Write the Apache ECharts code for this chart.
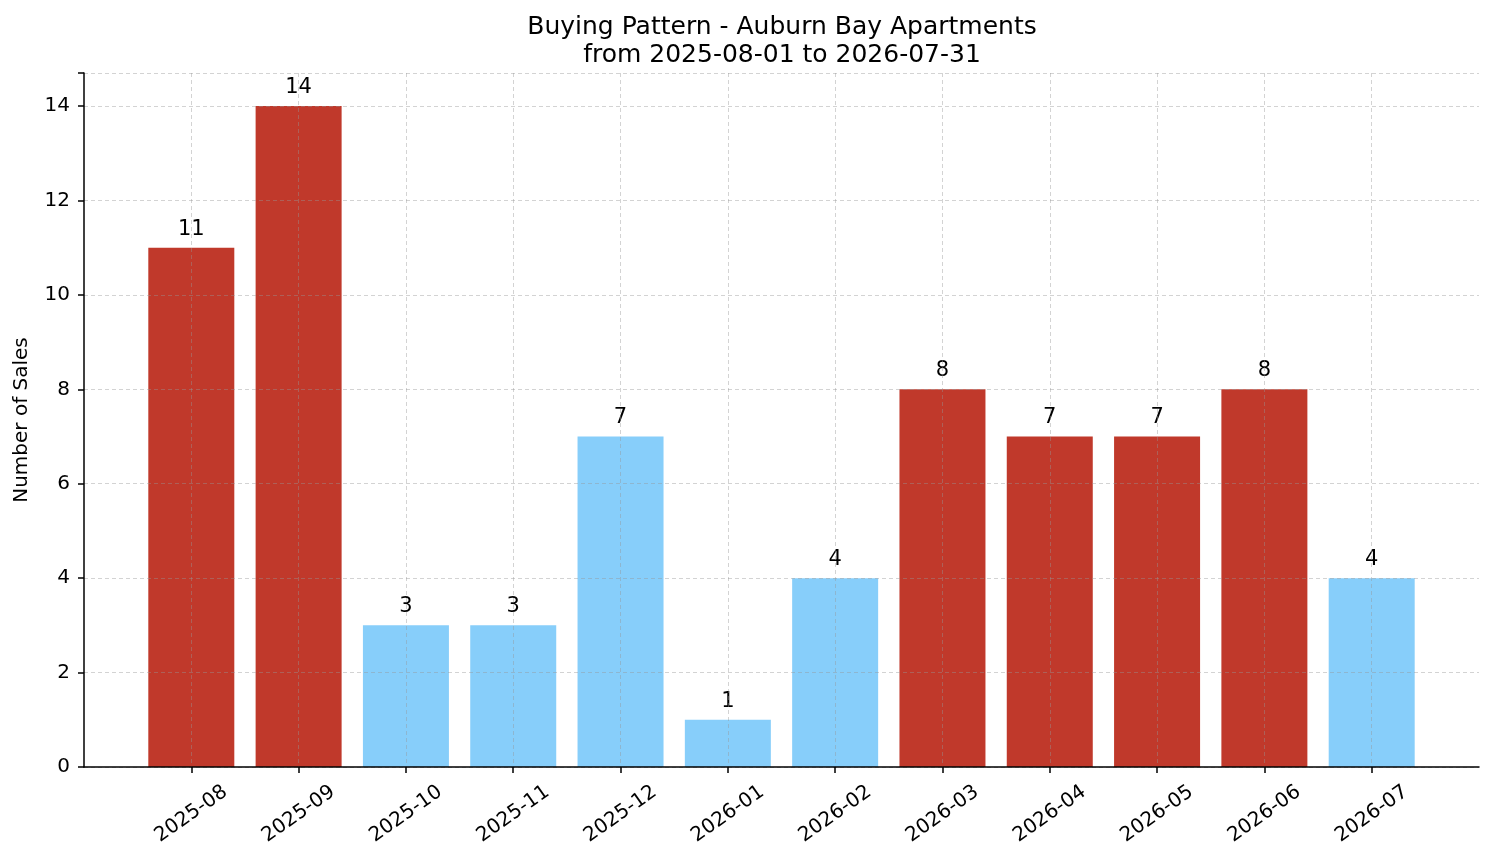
<!DOCTYPE html>
<html>
<head>
<meta charset="utf-8">
<script src="https://cdn.jsdelivr.net/npm/echarts@6/dist/echarts.min.js"></script>
<style>
  html, body { margin: 0; padding: 0; background: #fff; }
  #main { width: 1494px; height: 863px; }
</style>
</head>
<body>
<div id="main"></div>
<script>
// data
const months = ['2025-08', '2025-09', '2025-10', '2025-11', '2025-12', '2026-01',
                '2026-02', '2026-03', '2026-04', '2026-05', '2026-06', '2026-07'];
const sales = [11, 14, 3, 3, 7, 1, 4, 8, 7, 7, 8, 4];
// true = red bar, false = light blue bar
const highlight = [true, true, false, false, false, false, false, true, true, true, true, false];

const RED = '#c0392b';
const BLUE = '#87cefa';
const FONT = 'DejaVu Sans';
const GRID = 'rgba(150,150,150,0.42)';

// pad one empty slot on each side so the axis runs from -1 to 12 like matplotlib
const cats = [''].concat(months, ['']);
const barData = [{value: null}].concat(sales.map((v, i) => ({
    value: v,
    itemStyle: {color: highlight[i] ? RED : BLUE}
})), [{value: null}]);

const notPad = (idx, val) => val !== '';

let myChart = echarts.init(document.getElementById('main'));

myChart.setOption({
    animation: false,
    title: {
        text: 'Buying Pattern - Auburn Bay Apartments\nfrom 2025-08-01 to 2026-07-31',
        left: 777,
        textAlign: 'center',
        top: 8,
        textStyle: {
            fontFamily: FONT,
            fontSize: 25,
            fontWeight: 'normal',
            color: '#000',
            lineHeight: 28
        }
    },
    grid: {left: 84, right: 15, top: 73, bottom: 96, containLabel: false},
    xAxis: {
        type: 'category',
        data: cats,
        boundaryGap: false,
        z: 3,
        axisLine: {lineStyle: {color: '#000', width: 1.5}},
        axisTick: {interval: notPad, length: 6, lineStyle: {color: '#000', width: 1.5}},
        axisLabel: {
            interval: notPad,
            rotate: 35,
            align: 'center',
            verticalAlign: 'middle',
            margin: 47,
            fontFamily: FONT,
            fontSize: 20,
            color: '#000'
        },
        splitLine: {
            show: true,
            interval: notPad,
            lineStyle: {color: GRID, type: [4, 3], width: 1}
        }
    },
    yAxis: {
        type: 'value',
        min: 0,
        max: 14.7,
        interval: 2,
        z: 3,
        name: 'Number of Sales',
        nameLocation: 'middle',
        nameGap: 52,
        nameTextStyle: {fontFamily: FONT, fontSize: 20, color: '#000'},
        axisLine: {show: true, lineStyle: {color: '#000', width: 1.5}},
        axisTick: {show: true, length: 6, lineStyle: {color: '#000', width: 1.5}},
        axisLabel: {
            fontFamily: FONT,
            fontSize: 20,
            color: '#000',
            margin: 14,
            formatter: v => (v % 2 === 0 ? String(v) : '')
        },
        splitLine: {
            show: true,
            lineStyle: {color: GRID, type: [4, 3], width: 1}
        }
    },
    series: [
        {
            type: 'bar',
            data: barData,
            barWidth: 86,
            z: 2,
            label: {
                show: true,
                position: 'top',
                distance: 8,
                fontFamily: FONT,
                fontSize: 21,
                color: '#000'
            }
        }
    ]
});
</script>
</body>
</html>
